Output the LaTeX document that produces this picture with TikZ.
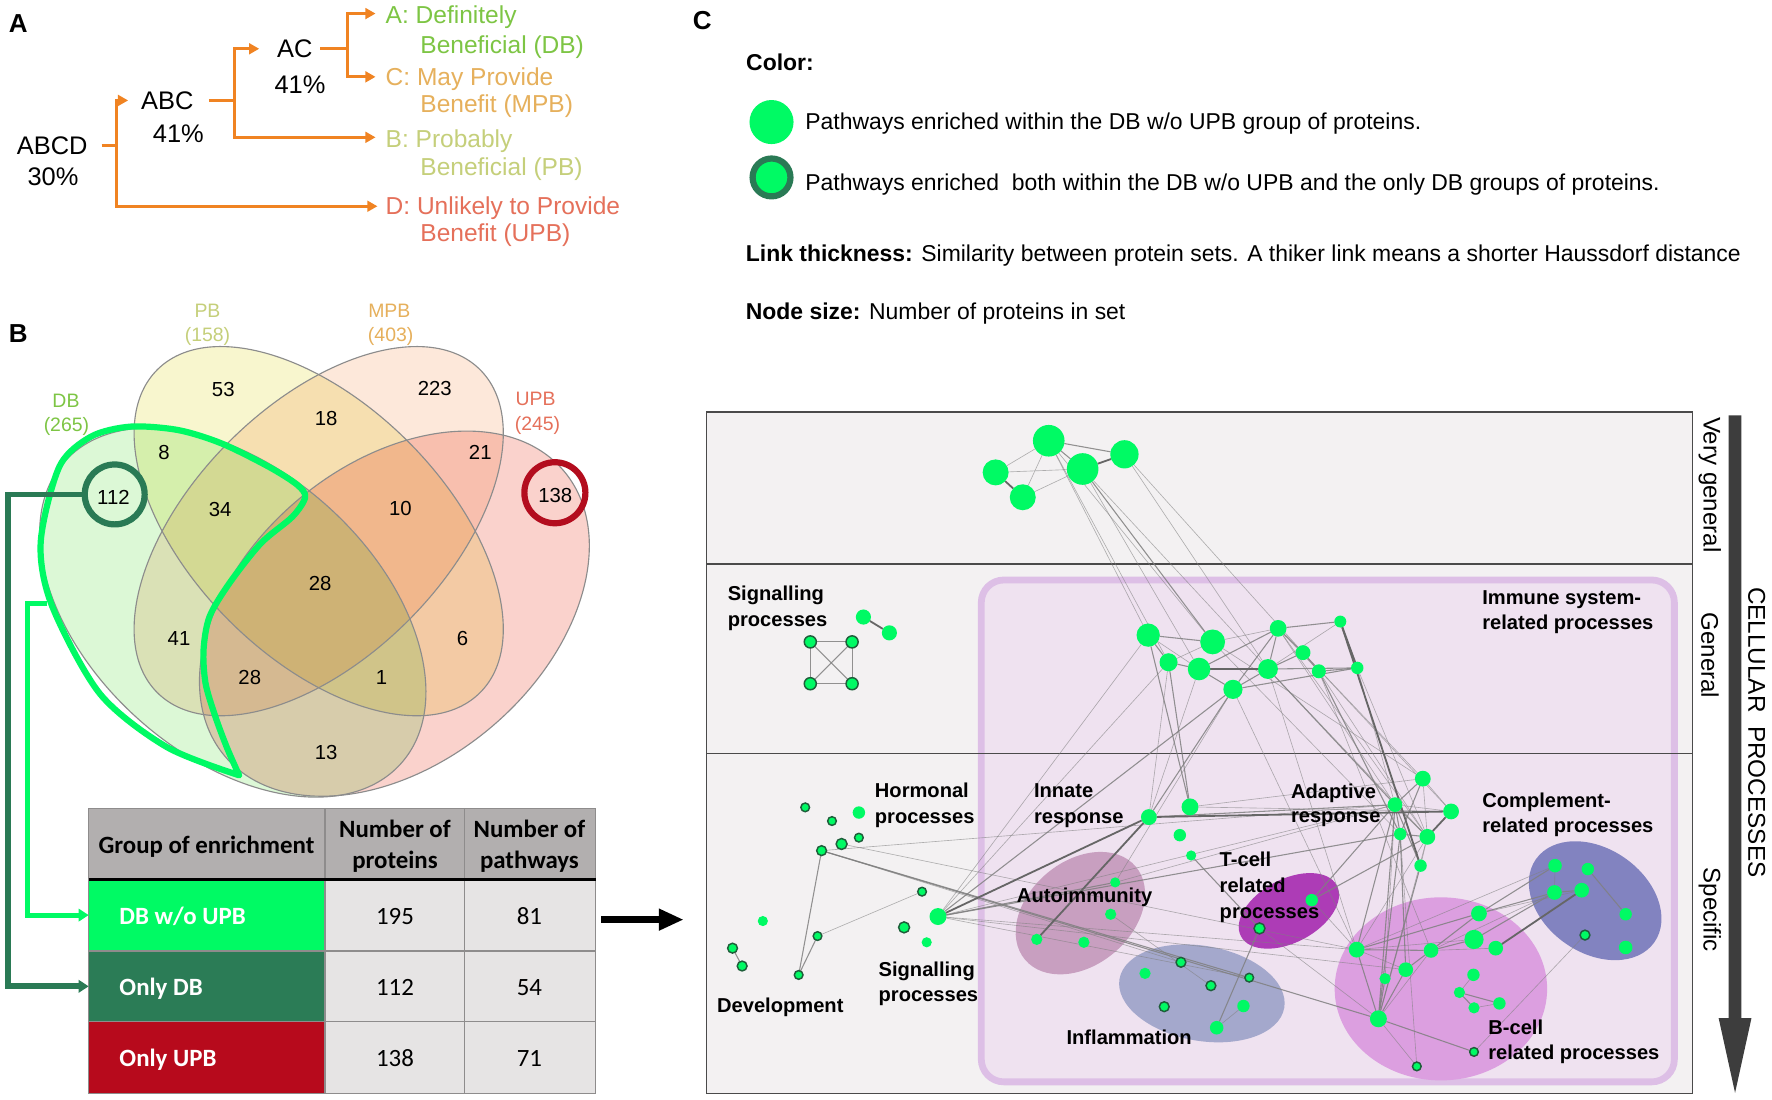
\documentclass[tikz,border=0pt]{standalone}
\usepackage{fontspec}
\setmainfont{Liberation Sans}
\newfontfamily\calfont{Carlito}
\usetikzlibrary{arrows.meta}
\definecolor{orln}{HTML}{F08322}
\definecolor{txDB}{HTML}{7DC544}
\definecolor{txMPB}{HTML}{E6B05C}
\definecolor{txPB}{HTML}{C5CF7A}
\definecolor{txUPB}{HTML}{E5705A}
\definecolor{fDB}{HTML}{DCF8D6}
\definecolor{fPB}{HTML}{F8F6CE}
\definecolor{fMPB}{HTML}{FDE8DA}
\definecolor{fUPB}{HTML}{FAD2CC}
\definecolor{vennline}{HTML}{8C8C8C}
\definecolor{brgreen}{HTML}{00FA64}
\definecolor{dkgreen}{HTML}{2A7A55}
\definecolor{dkred}{HTML}{B30D1E}
\definecolor{hdgray}{HTML}{B2AFAF}
\definecolor{cellgray}{HTML}{E6E4E4}
\definecolor{tgrid}{HTML}{8E8C8C}
\definecolor{rowred}{HTML}{B70A1C}
\definecolor{rowdk}{HTML}{2B7C56}
\definecolor{boxfill}{HTML}{F3F1F2}
\definecolor{boxline}{HTML}{4A4A4A}
\definecolor{immfill}{HTML}{EFE2F0}
\definecolor{immline}{HTML}{DDBFE6}
\definecolor{autoc}{HTML}{C89FC0}
\definecolor{inflc}{HTML}{A4A8CC}
\definecolor{tcellc}{HTML}{AD3CB6}
\definecolor{bcellc}{HTML}{DC9FE0}
\definecolor{complc}{HTML}{8283C0}
\definecolor{edgec}{HTML}{808080}
\definecolor{ringc}{HTML}{1E5E3A}
\definecolor{bigarrow}{HTML}{3D3D3D}
\pgfdeclarelayer{bg}
\pgfdeclarelayer{edges}
\pgfsetlayers{bg,edges,main}
\newcommand\fz[2]{\fontsize{#1}{#2}\selectfont}
\newcommand\GN[4]{\node[gnode, minimum size=#4*2] (#1) at (#2,#3) {};}
\newcommand\GD[4]{\node[gring, minimum size=#4*2-1.3] (#1) at (#2,#3) {};}
\begin{document}
\begin{tikzpicture}[x=1pt, y=-1pt,
  every node/.style={inner sep=0pt, outer sep=0pt},
  tb/.style={anchor=base},
  tw/.style={anchor=base west},
  plab/.style={anchor=base west, font=\bfseries\fz{23}{26}},
  atx/.style={anchor=base, font=\fz{22.5}{26}},
  alab/.style={anchor=base west, font=\fz{21.7}{26}},
  orline/.style={draw=orln, line width=2.8pt},
  orarrow/.style={draw=orln, line width=2.8pt, -{Triangle[length=9pt,width=9.5pt]}},
  vennedge/.style={draw=vennline, line width=1pt},
  vnum/.style={anchor=base, font=\fz{18}{21}},
  vlab/.style={anchor=base, font=\fz{17.2}{20}},
  cell/.style={draw=tgrid, line width=1.2pt, rectangle},
  hdtx/.style={anchor=base, font=\calfont\bfseries\fz{22}{26}},
  rwtx/.style={anchor=base west, font=\calfont\bfseries\fz{22}{26}, text=white},
  numtx/.style={anchor=base, font=\calfont\fz{22}{26}},
  legtx/.style={anchor=base west, font=\fz{20.3}{24}},
  netlab/.style={anchor=base west, font=\bfseries\fz{17.8}{21}},
  levlab/.style={rotate=-90, font=\fz{21.3}{24}},
  gnode/.style={circle, fill=brgreen, draw=none},
  gring/.style={circle, fill=brgreen, draw=ringc, line width=1.3pt},
  ethn/.style={draw=edgec, line width=0.55pt, draw opacity=0.6},
  emid/.style={draw=edgec, line width=0.95pt, draw opacity=0.85},
  ethk/.style={draw=edgec!80!black, line width=1.6pt},
]
\useasboundingbox (0,0) rectangle (1568,972.5);
\begin{pgfonlayer}{bg}
\fill[white] (0,0) rectangle (1568,972.5);
\draw[fill=boxfill, draw=boxline, line width=1.5pt] (625.2,364.3) rectangle (1497.6,967.5);
\draw[fill=immfill, draw=immline, line width=6pt, rounded corners=20pt] (868.3,513.2) rectangle (1481.6,957.3);
\draw[boxline, line width=1.2pt] (625.2,499.2) -- (1497.6,499.2);
\draw[boxline, line width=1.2pt] (625.2,666.5) -- (1497.6,666.5);
\fill[autoc, rotate around={40:(956,808)}] (956,808) ellipse [x radius=64, y radius=46];
\fill[inflc, rotate around={-10:(1063.5,879)}] (1063.5,879) ellipse [x radius=74, y radius=42];
\fill[tcellc, rotate around={28:(1140.5,806)}] (1140.5,806) ellipse [x radius=48, y radius=28];
\fill[bcellc] (1275,875) ellipse [x radius=94, y radius=81];
\fill[complc, rotate around={-35:(1411.5,797)}] (1411.5,797) ellipse [x radius=64, y radius=46];
\end{pgfonlayer}

% ---------------- Panel A ----------------
\node[plab] (lA) at (7.9,28.9) {A};
\node[atx] (abcd) at (46.2,136.4) {ABCD};
\node[atx] (p30) at (46.9,164.4) {30\%};
\node[atx] (abc) at (148,96.6) {ABC};
\node[atx] (p41a) at (157.8,126.1) {41\%};
\node[atx] (ac) at (260.8,50.9) {AC};
\node[atx] (p41b) at (265.5,82.4) {41\%};
\node[alab, text=txDB] (la1) at (341.3,21.1) {A: Definitely};
\node[alab, text=txDB] (la2) at (372,47.6) {Beneficial (DB)};
\node[alab, text=txMPB] (lc1) at (341.3,75.6) {C: May Provide};
\node[alab, text=txMPB] (lc2) at (372,99.8) {Benefit (MPB)};
\node[alab, text=txPB] (lb1) at (341.3,130.2) {B: Probably};
\node[alab, text=txPB] (lb2) at (372,155.3) {Beneficial (PB)};
\node[alab, text=txUPB] (ld1) at (341.3,189.8) {D: Unlikely to Provide};
\node[alab, text=txUPB] (ld2) at (372,213.4) {Benefit (UPB)};
\coordinate (tA) at (332.3,12);
\coordinate (tC) at (332.3,68);
\coordinate (tB) at (332.3,121.5);
\coordinate (tD) at (334,182.5);
\draw[orline] ([xshift=12.5pt]abcd.east) -- ++(13,0) coordinate (jA);
\draw[orarrow] (jA) |- ([xshift=-11.5pt]abc.west);
\draw[orarrow] (jA) |- (tD);
\draw[orline] ([xshift=13.6pt]abc.east) -- ++(22.4,0) coordinate (jB);
\draw[orarrow] (jB) |- ([xshift=-15.8pt]ac.west);
\draw[orarrow] (jB) |- (tB);
\draw[orline] ([xshift=7pt]ac.east) -- ++(24.2,0) coordinate (jC);
\draw[orarrow] (jC) |- (tA);
\draw[orarrow] (jC) |- (tC);

% ---------------- Panel B ----------------
\node[plab] (lB) at (7.9,303.3) {B};
\begin{scope}[blend mode=multiply]
\fill[fDB, rotate around={-42:(206,542)}] (206,542) ellipse [x radius=200, y radius=126];
\fill[fPB, rotate around={-45:(282,470)}] (282,470) ellipse [x radius=202, y radius=112];
\fill[fMPB, rotate around={45:(282,470)}] (282,470) ellipse [x radius=202, y radius=112];
\fill[fUPB, rotate around={40:(349,543)}] (349,543) ellipse [x radius=196, y radius=132];
\end{scope}
\draw[vennedge, rotate around={-42:(206,542)}] (206,542) ellipse [x radius=200, y radius=126];
\draw[vennedge, rotate around={-45:(282,470)}] (282,470) ellipse [x radius=202, y radius=112];
\draw[vennedge, rotate around={45:(282,470)}] (282,470) ellipse [x radius=202, y radius=112];
\draw[vennedge, rotate around={40:(349,543)}] (349,543) ellipse [x radius=196, y radius=132];
\draw[brgreen, line width=5.5pt, line join=round, line cap=round] plot[smooth, tension=0.5] coordinates {
 (211.6,686) (147.5,661) (88.5,614) (46,536) (36,480) (52.5,413) (80.4,386.4) (115.4,377.5)
 (157.4,380.5) (195.9,392.3) (237.8,413) (263,429) (270,440) (258.8,457.2) (230.8,480.8)
 (202.9,516.2) (185.4,545.7) (180.1,575.2) (181.9,604.7) (190.6,634.2) (201,662) (211.6,686)};
\node[circle, draw=dkgreen, line width=5.5pt, minimum size=53] (c112) at (101.5,437.5) {};
\node[circle, draw=dkred, line width=5.5pt, minimum size=54] (c138) at (491,436) {};
\node[vlab, text=txPB] (vPB) at (183.6,280.5) {PB};
\node[vlab, text=txPB] (vPBn) at (183.6,302.6) {(158)};
\node[vlab, text=txMPB] (vMPB) at (344.5,280.5) {MPB};
\node[vlab, text=txMPB] (vMPBn) at (345.7,302.6) {(403)};
\node[vlab, text=txDB] (vDB) at (58.4,360.2) {DB};
\node[vlab, text=txDB] (vDBn) at (58.8,382.2) {(265)};
\node[vlab, text=txUPB] (vUPB) at (474,358.7) {UPB};
\node[vlab, text=txUPB] (vUPBn) at (475.6,380.8) {(245)};
\node[vnum] (n53) at (197.6,351) {53};
\node[vnum] (n223) at (384.7,350.1) {223};
\node[vnum] (n18) at (288.6,376.7) {18};
\node[vnum] (n8) at (145.2,406.8) {8};
\node[vnum] (n21) at (425,406.8) {21};
\node[vnum] (n112) at (100.4,446) {112};
\node[vnum] (n34) at (194.8,457.2) {34};
\node[vnum] (n10) at (354.3,456.3) {10};
\node[vnum] (n138) at (491.4,444.5) {138};
\node[vnum] (n28a) at (283.3,522.7) {28};
\node[vnum] (n41) at (158.4,570.8) {41};
\node[vnum] (n6) at (409.2,570.8) {6};
\node[vnum] (n28b) at (221,605.3) {28};
\node[vnum] (n1) at (337.5,605.3) {1};
\node[vnum] (n13) at (288.6,671.7) {13};

% table
\node[cell, fill=hdgray, minimum width=209.1, minimum height=62.7] (h1) at (183.05,746.65) {};
\node[cell, fill=hdgray, minimum width=123.2, minimum height=62.7] (h2) at (349.2,746.65) {};
\node[cell, fill=hdgray, minimum width=116.4, minimum height=62.7] (h3) at (469,746.65) {};
\node[cell, fill=brgreen, minimum width=209.1, minimum height=63.5] (r1c1) at (183.05,809.75) {};
\node[cell, fill=cellgray, minimum width=123.2, minimum height=63.5] (r1c2) at (349.2,809.75) {};
\node[cell, fill=cellgray, minimum width=116.4, minimum height=63.5] (r1c3) at (469,809.75) {};
\node[cell, fill=rowdk, minimum width=209.1, minimum height=62.5] (r2c1) at (183.05,872.75) {};
\node[cell, fill=cellgray, minimum width=123.2, minimum height=62.5] (r2c2) at (349.2,872.75) {};
\node[cell, fill=cellgray, minimum width=116.4, minimum height=62.5] (r2c3) at (469,872.75) {};
\node[cell, fill=rowred, minimum width=209.1, minimum height=63.5] (r3c1) at (183.05,935.75) {};
\node[cell, fill=cellgray, minimum width=123.2, minimum height=63.5] (r3c2) at (349.2,935.75) {};
\node[cell, fill=cellgray, minimum width=116.4, minimum height=63.5] (r3c3) at (469,935.75) {};
\draw[black, line width=2.5pt] (h1.south west) -- (h3.south east);
\node[hdtx] (th1) at (182.7,755.2) {Group of enrichment};
\node[hdtx] (th2a) at (349.5,741.3) {Number of};
\node[hdtx] (th2b) at (349.5,768.5) {proteins};
\node[hdtx] (th3a) at (468.5,741.3) {Number of};
\node[hdtx] (th3b) at (468.5,768.5) {pathways};
\node[rwtx] (tr1) at (105.7,818.1) {DB w/o UPB};
\node[rwtx] (tr2) at (105.7,880.5) {Only DB};
\node[rwtx] (tr3) at (105.7,944) {Only UPB};
\node[numtx] (v195) at (349.5,818.1) {195};
\node[numtx] (v81) at (468.5,818.1) {81};
\node[numtx] (v112) at (349.5,880.5) {112};
\node[numtx] (v54) at (468.5,880.5) {54};
\node[numtx] (v138) at (349.5,944) {138};
\node[numtx] (v71) at (468.5,944) {71};

\coordinate (gout) at (42,533.9);
\draw[brgreen, line width=4.5pt, -{Triangle[length=9pt,width=11pt]}] (gout) -- ++(-17.5,0) |- (r1c1.west);
\draw[dkgreen, line width=5pt, -{Triangle[length=9pt,width=11pt]}] (c112.west) -- ++(-68,0) |- (r2c1.west);
\coordinate (cin) at (605,813.75);
\draw[black, line width=6pt, -{Triangle[length=22pt,width=18pt]}] ([xshift=5pt,yshift=-4pt]r1c3.east) -- (cin);

% ---------------- Panel C ----------------
\node[plab] (lC) at (613.2,26) {C};
\node[tw, font=\bfseries\fz{20.3}{24}] (colorlab) at (660.3,62.3) {Color:};
\node[circle, fill=brgreen, minimum size=39] (legA) at (682.7,108) {};
\node[circle, fill=brgreen, draw=dkgreen, line width=5.5pt, minimum size=33.5] (legB) at (682.7,157) {};
\node[legtx] (legAt) at (712.6,115) {Pathways enriched within the DB w/o UPB group of proteins.};
\node[legtx] (legBt) at (712.6,168.9) {Pathways enriched\ \ both within the DB w/o UPB and the only DB groups of proteins.};
\node[legtx] (linkt) at (660,231.5) {\textbf{Link thickness:} Similarity between protein sets. A thiker link means a shorter Haussdorf distance};
\node[legtx] (nodet) at (660,283.1) {\textbf{Node size:} Number of proteins in set};

\node[levlab] (lv1) at (1513,429) {Very general};
\node[levlab] (lv2) at (1513,580) {General};
\node[levlab] (lv3) at (1513,805) {Specific};
\node[levlab, font=\fz{21.5}{24}] (lcp) at (1554.4,648) {CELLULAR\ \ PROCESSES};
\fill[bigarrow] (1529.7,367.5) -- (1540.9,367.5) -- (1540.9,901) -- (1549.8,901) -- (1535.3,967) -- (1520.8,901) -- (1529.7,901) -- cycle;

% network labels
\node[netlab] (sig1a) at (644,531.4) {Signalling};
\node[netlab] (sig1b) at (644,554.4) {processes};
\node[netlab] (imm1) at (1311.7,534.8) {Immune system-};
\node[netlab] (imm2) at (1311.7,557.4) {related processes};
\node[netlab] (hor1) at (774.2,705.4) {Hormonal};
\node[netlab] (hor2) at (774.2,728.4) {processes};
\node[netlab] (inn1) at (915,705.4) {Innate};
\node[netlab] (inn2) at (915,728.4) {response};
\node[netlab] (ada1) at (1142.4,706.4) {Adaptive};
\node[netlab] (ada2) at (1142.4,727.8) {response};
\node[netlab] (com1) at (1311.7,714.9) {Complement-};
\node[netlab] (com2) at (1311.7,736.8) {related processes};
\node[netlab] (tce1) at (1079.3,766.4) {T-cell};
\node[netlab] (tce2) at (1079.3,789.4) {related};
\node[netlab] (tce3) at (1079.3,813.1) {processes};
\node[netlab] (aut) at (899.9,798.4) {Autoimmunity};
\node[netlab] (sig2a) at (777.5,864.1) {Signalling};
\node[netlab] (sig2b) at (777.5,886) {processes};
\node[netlab] (dev) at (634.6,895.7) {Development};
\node[netlab] (inf) at (943.8,924.6) {Inflammation};
\node[netlab] (bce1) at (1317,915.7) {B-cell};
\node[netlab] (bce2) at (1317,937.4) {related processes};

% network nodes
\GN{v1}{928}{390}{14}
\GN{v2}{958}{415}{14}
\GN{v3}{995}{402}{12.5}
\GN{v4}{881}{418}{11.5}
\GN{v5}{905}{440}{11.5}
\GN{sg1}{764}{546}{6.7}
\GN{sg2}{787}{560}{6.7}
\GD{q1}{717}{568}{6}
\GD{q2}{754}{568}{6}
\GD{q3}{717}{605}{6}
\GD{q4}{754}{605}{6}
\GN{g1}{1016}{562}{10.3}
\GN{g2}{1073}{568}{11}
\GN{g3}{1034}{586}{8}
\GN{g4}{1061}{592}{10}
\GN{g5}{1091}{610}{8.5}
\GN{g6}{1122}{592}{8.8}
\GN{g7}{1131}{556}{7.4}
\GN{g8}{1153}{577.5}{6.6}
\GN{g9}{1167}{594}{6.2}
\GN{g10}{1186}{550}{5.3}
\GN{g11}{1201}{591}{5.5}
\GN{i1}{1016.6}{723}{7}
\GN{i2}{1053}{714}{7.5}
\GN{i3}{1044}{739}{5.5}
\GN{i4}{1054}{757}{4.5}
\GN{a1}{1259}{689}{7}
\GN{a2}{1234.4}{712}{6.5}
\GN{a3}{1284}{718}{7}
\GN{a4}{1239}{738}{5.5}
\GN{a5}{1263}{740.5}{7}
\GN{a6}{1257}{766}{5.5}
\GN{c1}{1376}{766}{6}
\GN{c2}{1405}{769}{5.5}
\GN{c3}{1375.5}{789.7}{6.5}
\GN{c4}{1399.6}{787.7}{6.5}
\GN{c5}{1438.5}{809}{5.5}
\GD{c6}{1402.5}{827.4}{5}
\GN{c7}{1438.5}{838.4}{6}
\GN{b1}{1308.7}{808.3}{7}
\GN{b5}{1304.3}{831.3}{8.5}
\GN{b6}{1323.5}{839}{6.5}
\GN{b4}{1266.3}{841}{6.5}
\GN{b2}{1200.5}{840.3}{7}
\GN{b7}{1243.9}{858}{6.5}
\GN{b8}{1225.6}{866}{5}
\GN{b9}{1303.8}{862.6}{5.5}
\GN{b10}{1291.4}{878.2}{5}
\GN{b12}{1304.3}{891.8}{5}
\GN{b11}{1326.8}{887.9}{5.5}
\GN{b13}{1219.7}{901.5}{7.5}
\GD{b14}{1304.3}{930.8}{4.5}
\GD{b15}{1253.7}{943.6}{4.5}
\GN{t1}{1160.7}{796.5}{5.5}
\GD{t2}{1114.5}{821.5}{5.5}
\GN{au1}{986.8}{780.8}{4.5}
\GN{au2}{982.8}{809}{5}
\GN{au3}{917.4}{831.2}{5}
\GN{au4}{959.1}{833.8}{5}
\GD{in1}{1045}{851.5}{5}
\GN{in2}{1013.2}{861.3}{5}
\GD{in3}{1071.5}{872.2}{5}
\GD{in4}{1105.4}{865.1}{4.5}
\GD{in5}{1030.2}{890.8}{5}
\GN{in6}{1100.3}{890.2}{5.5}
\GN{in7}{1076.6}{909.4}{6}
\GN{s1}{830}{811}{7.5}
\GD{s2}{815.9}{789}{4.5}
\GD{s3}{800}{820.6}{5.5}
\GN{s4}{820}{833.8}{4.5}
\GN{h1}{760}{719}{5.5}
\GD{h2}{712.5}{714.4}{4.5}
\GD{h3}{736.2}{726.5}{4.5}
\GD{h4}{760}{741.2}{4.5}
\GD{h5}{744.7}{746.8}{5.5}
\GD{h6}{727}{752.7}{5}
\GN{d1}{675}{815}{4.5}
\GD{d2}{648.2}{839}{5}
\GD{d3}{656.7}{854.8}{5}
\GD{d4}{723.4}{828.3}{4.5}
\GD{d5}{706.7}{862.7}{4.5}

\begin{pgfonlayer}{edges}
\foreach \a/\b in {v1/v4, v4/v2, v5/v2, v5/v1, v1/g1, v1/g3, v2/g4, v3/g6, v3/g8, v2/g6, v1/g2,
  g2/g3, g1/g4, g2/g7, g7/g9, g10/g6, g3/i1, g4/i1, g6/a5, g8/a1, g11/a2, g2/a4, g5/au1, g3/s1,
  g1/s1, g7/a5, g2/a1, g5/b2, g6/b2, g9/b4, i2/a1, i2/a3, s1/a2, au1/a2, t1/b2, t2/b13, in7/in6,
  d4/s2, h6/a2, h5/b2, b2/b5, b4/b6, b4/c3, b2/c1, b7/b2, b13/b4, b13/a5, b13/b15, b12/b11,
  b9/b10, b8/a2, b2/a5, b14/c6, b1/c4, b15/a4, a1/a3, a1/a5, a2/a3, a6/a5, c1/c3, s1/b2, s1/in4,
  h6/in1, au2/in3, s1/b7, g8/a3, g9/a5, g11/a5, g7/a2}
  \draw[ethn] (\a) -- (\b);
\foreach \a/\b in {v1/v2, v1/v3, v2/g2, g1/g2, g1/g3, g3/g4, g4/g5, g5/g6, g4/g7, g5/g7, g6/g7,
  g7/g10, g7/g8, g6/g8, g8/g9, g9/g11, g6/g11, g5/g11, g1/i2, g3/i2, g5/i1, g9/a4, g6/a2, g5/s1,
  i1/a2, s1/au1, s1/a4, i4/t2, t1/a2, t1/a5, t2/in7, h6/d5, d5/d4, d2/d3, h6/in4, h6/b13,
  b2/b4, b2/b1, b4/b1, b4/b5, b1/c3, b1/c1, b5/c3, b7/b4, b7/b13, b8/b13, b13/b2, b13/b14,
  b13/a2, b13/a4, b13/a6, b10/b12, b10/b11, b7/a4, b2/a2, c2/c5, c3/c4, a1/a2, a1/a4, a2/a4,
  a2/a5, a4/a5, a6/a2, q1/q2, q1/q3, q2/q4, q3/q4, q1/q4, q2/q3}
  \draw[emid] (\a) -- (\b);
\foreach \a/\b in {v2/v3, v4/v5, g4/g6, g10/g11, g10/a6, i1/a3, s1/i1, au3/i1, a3/a5, b6/c4, sg1/sg2}
  \draw[ethk] (\a) -- (\b);
\end{pgfonlayer}
\end{tikzpicture}
\end{document}
